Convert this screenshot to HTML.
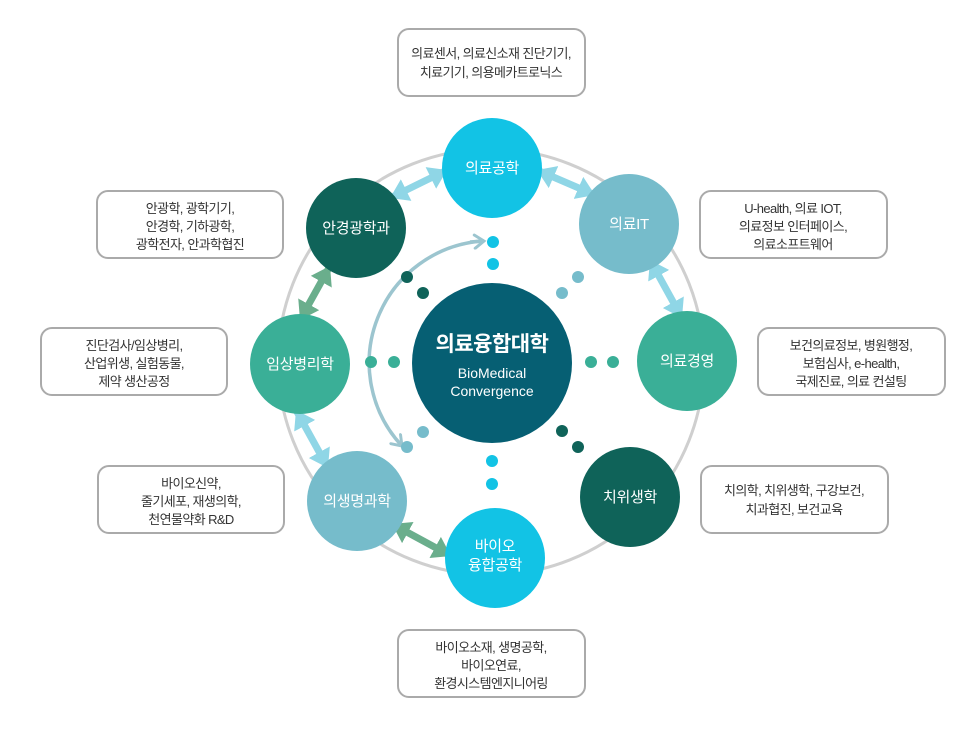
<!DOCTYPE html>
<html><head><meta charset="utf-8"><style>
html,body{margin:0;padding:0;background:#fff;width:980px;height:730px;overflow:hidden}
svg text{font-family:"Liberation Sans","Noto Sans CJK KR",sans-serif}
.box{fill:#fff;stroke:#aaa;stroke-width:2}
.bt{font-size:13px;fill:#333;text-anchor:middle;letter-spacing:-0.6px}
.nt{font-size:15px;fill:#fff;text-anchor:middle;letter-spacing:-0.3px}
</style></head><body>
<svg width="980" height="730" viewBox="0 0 980 730" xmlns="http://www.w3.org/2000/svg">
<defs>
<marker id="hl" viewBox="0 0 10 10" refX="10" refY="5" markerWidth="18" markerHeight="24" markerUnits="userSpaceOnUse" orient="auto-start-reverse" preserveAspectRatio="none"><path d="M0,0 L10,5 L0,10 Z" fill="#8fd6e6"/></marker>
<marker id="hg" viewBox="0 0 10 10" refX="10" refY="5" markerWidth="18" markerHeight="24" markerUnits="userSpaceOnUse" orient="auto-start-reverse" preserveAspectRatio="none"><path d="M0,0 L10,5 L0,10 Z" fill="#6aae8c"/></marker>
<marker id="ch" viewBox="0 0 12 12" refX="9" refY="6" markerWidth="16" markerHeight="16" markerUnits="userSpaceOnUse" orient="auto"><path d="M2,1 L9,6 L2,11" fill="none" stroke="#9cc5cf" stroke-width="2.2" stroke-linecap="round"/></marker>
</defs>
<circle cx="491" cy="362" r="213" fill="none" stroke="#cfcfcf" stroke-width="3"/>
<rect class="box" x="398" y="29" width="187" height="67" rx="11"/>
<text class="bt" x="491" y="58">의료센서, 의료신소재 진단기기,</text>
<text class="bt" x="491" y="77">치료기기, 의용메카트로닉스</text>
<rect class="box" x="700" y="191" width="187" height="67" rx="11"/>
<text class="bt" x="793" y="213">U-health, 의료 IOT,</text>
<text class="bt" x="793" y="231">의료정보 인터페이스,</text>
<text class="bt" x="793" y="249">의료소프트웨어</text>
<rect class="box" x="758" y="328" width="187" height="67" rx="11"/>
<text class="bt" x="851" y="350">보건의료정보, 병원행정,</text>
<text class="bt" x="851" y="368">보험심사, e-health,</text>
<text class="bt" x="851" y="386">국제진료, 의료 컨설팅</text>
<rect class="box" x="701" y="466" width="187" height="67" rx="11"/>
<text class="bt" x="794" y="495">치의학, 치위생학, 구강보건,</text>
<text class="bt" x="794" y="514">치과협진, 보건교육</text>
<rect class="box" x="398" y="630" width="187" height="67" rx="11"/>
<text class="bt" x="491" y="652">바이오소재, 생명공학,</text>
<text class="bt" x="491" y="670">바이오연료,</text>
<text class="bt" x="491" y="688">환경시스템엔지니어링</text>
<rect class="box" x="97" y="191" width="186" height="67" rx="11"/>
<text class="bt" x="190" y="213">안광학, 광학기기,</text>
<text class="bt" x="190" y="231">안경학, 기하광학,</text>
<text class="bt" x="190" y="249">광학전자, 안과학협진</text>
<rect class="box" x="41" y="328" width="186" height="67" rx="11"/>
<text class="bt" x="134" y="350">진단검사/임상병리,</text>
<text class="bt" x="134" y="368">산업위생, 실험동물,</text>
<text class="bt" x="134" y="386">제약 생산공정</text>
<rect class="box" x="98" y="466" width="186" height="67" rx="11"/>
<text class="bt" x="191" y="488">바이오신약,</text>
<text class="bt" x="191" y="506">줄기세포, 재생의학,</text>
<text class="bt" x="191" y="524">천연물약화 R&amp;D</text>
<g stroke-width="7" fill="none">
<line x1="390" y1="198" x2="447" y2="170" stroke="#8fd6e6" marker-start="url(#hl)" marker-end="url(#hl)"/>
<line x1="537" y1="170" x2="595" y2="195" stroke="#8fd6e6" marker-start="url(#hl)" marker-end="url(#hl)"/>
<line x1="650" y1="260" x2="682" y2="318" stroke="#8fd6e6" marker-start="url(#hl)" marker-end="url(#hl)"/>
<line x1="330" y1="266" x2="300" y2="320" stroke="#6aae8c" marker-start="url(#hg)" marker-end="url(#hg)"/>
<line x1="296" y1="410" x2="328" y2="468" stroke="#8fd6e6" marker-start="url(#hl)" marker-end="url(#hl)"/>
<line x1="392" y1="524" x2="451" y2="556" stroke="#6aae8c" marker-start="url(#hg)" marker-end="url(#hg)"/>
</g>
<path d="M483,241 A122,122 0 0 0 402,446" fill="none" stroke="#9cc5cf" stroke-width="3.5" marker-end="url(#ch)"/>
<path d="M470,242 L484,241" fill="none" stroke="#9cc5cf" stroke-width="3.5" marker-end="url(#ch)"/>
<g>
<circle cx="493" cy="242" r="6" fill="#12c3e5"/><circle cx="493" cy="264" r="6" fill="#12c3e5"/>
<circle cx="578" cy="277" r="6" fill="#76bccb"/><circle cx="562" cy="293" r="6" fill="#76bccb"/>
<circle cx="591" cy="362" r="6" fill="#3aaf97"/><circle cx="613" cy="362" r="6" fill="#3aaf97"/>
<circle cx="562" cy="431" r="6" fill="#0f6359"/><circle cx="578" cy="447" r="6" fill="#0f6359"/>
<circle cx="492" cy="461" r="6" fill="#12c3e5"/><circle cx="492" cy="484" r="6" fill="#12c3e5"/>
<circle cx="423" cy="432" r="6" fill="#76bccb"/><circle cx="407" cy="447" r="6" fill="#76bccb"/>
<circle cx="371" cy="362" r="6" fill="#3aaf97"/><circle cx="394" cy="362" r="6" fill="#3aaf97"/>
<circle cx="407" cy="277" r="6" fill="#0f6359"/><circle cx="423" cy="293" r="6" fill="#0f6359"/>
</g>
<circle cx="492" cy="363" r="80" fill="#065f73"/>
<text x="492" y="351" font-size="21" font-weight="bold" fill="#fff" text-anchor="middle" letter-spacing="-0.5">의료융합대학</text>
<text x="492" y="378" font-size="14" fill="#fff" text-anchor="middle">BioMedical</text>
<text x="492" y="396" font-size="14" fill="#fff" text-anchor="middle">Convergence</text>
<circle cx="492" cy="168" r="50" fill="#12c3e5"/><text class="nt" x="492" y="173">의료공학</text>
<circle cx="629" cy="224" r="50" fill="#76bccb"/><text class="nt" x="629" y="229">의료IT</text>
<circle cx="687" cy="361" r="50" fill="#3aaf97"/><text class="nt" x="687" y="366">의료경영</text>
<circle cx="630" cy="497" r="50" fill="#0f6359"/><text class="nt" x="630" y="502">치위생학</text>
<circle cx="495" cy="558" r="50" fill="#12c3e5"/><text class="nt" x="495" y="551">바이오</text><text class="nt" x="495" y="570">융합공학</text>
<circle cx="357" cy="501" r="50" fill="#76bccb"/><text class="nt" x="357" y="506">의생명과학</text>
<circle cx="300" cy="364" r="50" fill="#3aaf97"/><text class="nt" x="300" y="369">임상병리학</text>
<circle cx="356" cy="228" r="50" fill="#0f6359"/><text class="nt" x="356" y="233">안경광학과</text>
</svg>
</body></html>
